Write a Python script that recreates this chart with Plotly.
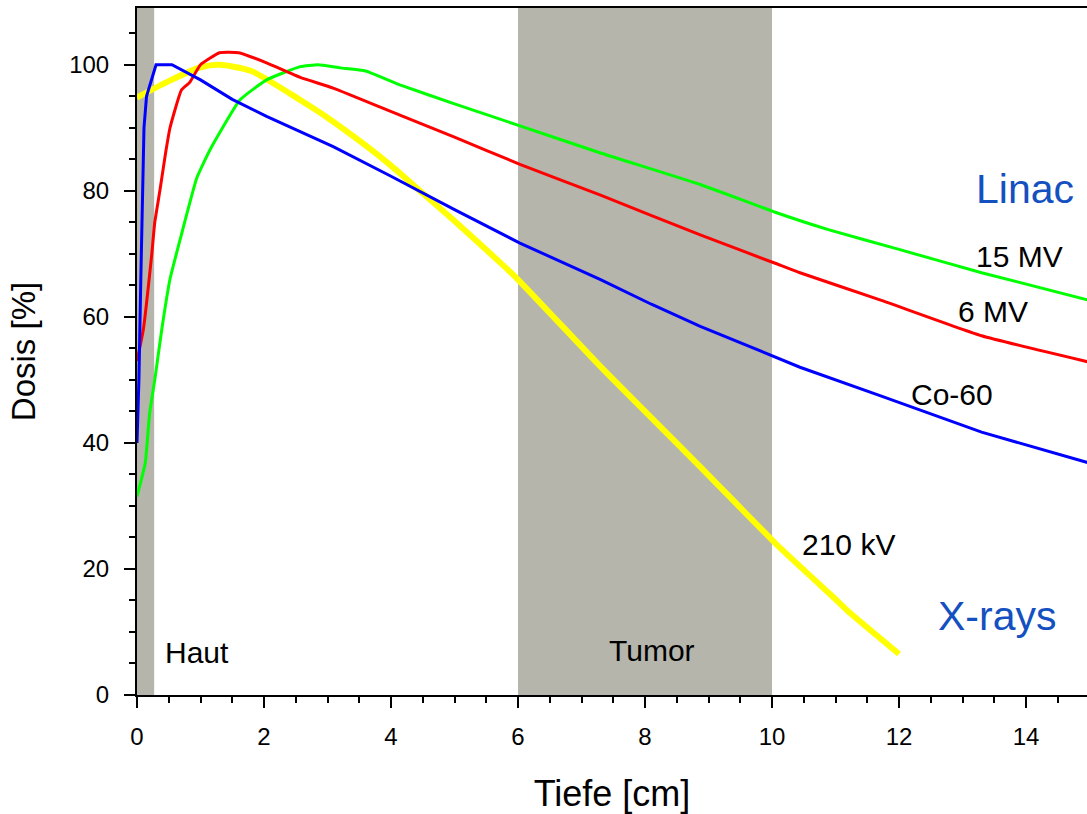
import plotly.graph_objects as go

# ---- data ----
x_210kv = [0, 0.5, 1.0, 1.3, 1.8, 2.57, 3.0, 3.6, 4.0, 4.5, 5.0, 5.72, 6.03, 7.3, 8.0, 8.87, 10.05, 10.44, 11.0, 11.23, 12.0]
y_210kv = [94.8, 97.4, 99.6, 100.0, 99.0, 94.4, 91.6, 87.2, 84.0, 79.6, 75.2, 68.6, 65.6, 52.1, 45.0, 36.2, 24.1, 20.4, 15.2, 13.0, 6.5]

x_co60 = [0, 0.03, 0.06, 0.09, 0.11, 0.15, 0.3, 0.55, 1.0, 1.5, 2.04, 3.09, 4.0, 5.0, 5.72, 6.03, 7.3, 8.1, 8.87, 10.05, 10.44, 11.7, 13.3, 15.0]
y_co60 = [40.0, 50.0, 66.0, 80.0, 90.0, 95.0, 100.0, 100.0, 97.6, 94.5, 91.8, 87.0, 82.3, 77.0, 73.3, 71.7, 65.9, 62.0, 58.5, 53.7, 52.0, 47.5, 41.7, 36.8]

x_6mv = [0, 0.1, 0.23, 0.28, 0.36, 0.45, 0.52, 0.7, 0.83, 1.0, 1.3, 1.6, 2.04, 2.57, 3.09, 4.14, 5.0, 6.03, 7.3, 8.87, 10.05, 10.44, 11.7, 13.3, 15.0]
y_6mv = [53.0, 58.0, 69.7, 75.0, 80.0, 86.0, 90.0, 96.0, 97.2, 100.0, 101.9, 101.9, 100.3, 98.0, 96.3, 92.0, 88.5, 84.2, 79.3, 73.0, 68.5, 67.0, 62.7, 57.0, 52.8]

x_15mv = [0, 0.13, 0.2, 0.28, 0.39, 0.52, 0.68, 0.94, 1.15, 1.62, 2.04, 2.57, 2.85, 3.2, 3.6, 4.14, 5.0, 6.03, 7.3, 8.87, 10.05, 10.9, 12.0, 13.3, 15.0]
y_15mv = [31.5, 36.8, 44.8, 50.0, 58.0, 66.0, 72.3, 82.0, 86.5, 94.4, 97.6, 99.7, 100.0, 99.5, 99.0, 96.8, 93.8, 90.3, 86.0, 81.0, 76.6, 73.8, 70.7, 67.0, 62.6]

x_ticks = [0, 2, 4, 6, 8, 10, 12, 14]
y_ticks = [0, 20, 40, 60, 80, 100]

band_haut = [0, 0.27]
band_tumor = [6, 10]

FONT = "Liberation Sans, Arial, sans-serif"
BAND = "#b5b5ac"

fig = go.Figure()
fig.add_trace(go.Scatter(x=x_210kv, y=y_210kv, mode="lines",
                         line=dict(color="#ffff00", width=6, shape="spline", smoothing=0.6), name="210 kV"))
fig.add_trace(go.Scatter(x=x_15mv, y=y_15mv, mode="lines",
                         line=dict(color="#00ff00", width=3, shape="spline", smoothing=0.4), name="15 MV"))
fig.add_trace(go.Scatter(x=x_6mv, y=y_6mv, mode="lines",
                         line=dict(color="#ff0000", width=3, shape="spline", smoothing=0.4), name="6 MV"))
fig.add_trace(go.Scatter(x=x_co60, y=y_co60, mode="lines",
                         line=dict(color="#0000ff", width=3), name="Co-60"))

for b in (band_haut, band_tumor):
    fig.add_shape(type="rect", xref="x", yref="paper", x0=b[0], x1=b[1], y0=0, y1=1,
                  fillcolor=BAND, line=dict(width=0), layer="below")

def label(text, x, y, size=30, color="black"):
    fig.add_annotation(x=x, y=y, xref="x", yref="y", text=text, showarrow=False,
                       font=dict(family=FONT, size=size, color=color),
                       xanchor="center", yanchor="middle")

label("15 MV", 13.9, 69.6)
label("6 MV", 13.48, 60.9)
label("Co-60", 12.83, 47.7)
label("210 kV", 11.2, 23.9)
label("Haut", 0.94, 6.8)
label("Tumor", 8.11, 7.0)
label("Linac", 13.98, 80.3, size=41, color="#1450c0")
label("X-rays", 13.55, 12.5, size=41, color="#1450c0")

fig.update_layout(
    width=1087, height=814,
    margin=dict(l=137, r=0, t=8, b=119),
    paper_bgcolor="white", plot_bgcolor="white",
    showlegend=False,
    font=dict(family=FONT, color="black"),
)
fig.update_xaxes(
    range=[0, 14.96], tickvals=x_ticks, ticks="outside", ticklen=11, tickwidth=2, tickcolor="black",
    showline=True, linecolor="black", linewidth=2, mirror=True, showgrid=False, zeroline=False,
    tickfont=dict(size=24, family=FONT), ticklabelstandoff=8,
    minor=dict(dtick=0.5, ticks="outside", ticklen=6, tickwidth=2, tickcolor="black", showgrid=False),
    title=dict(text="Tiefe [cm]", font=dict(size=36, family=FONT), standoff=32),
)
fig.update_yaxes(
    range=[0, 109], tickvals=y_ticks, ticks="outside", ticklen=11, tickwidth=2, tickcolor="black",
    showline=True, linecolor="black", linewidth=2, mirror=False, showgrid=False, zeroline=False,
    tickfont=dict(size=24, family=FONT), ticklabelstandoff=10,
    minor=dict(dtick=5, ticks="outside", ticklen=6, tickwidth=2, tickcolor="black", showgrid=False),
    title=dict(text="Dosis [%]", font=dict(size=33, family=FONT), standoff=24),
)

fig.write_html("out.html", config={"displayModeBar": False},
               post_script="document.body.style.margin='0';document.body.style.overflow='hidden';")
